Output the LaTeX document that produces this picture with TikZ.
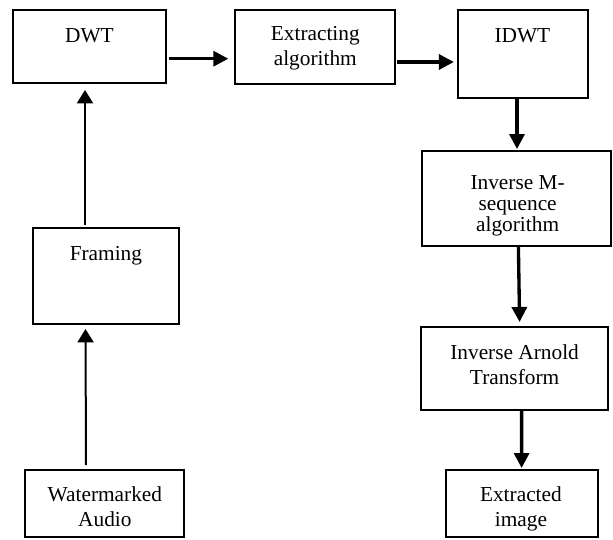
\documentclass[tikz,border=0pt]{standalone}
\usepackage{fontspec}
\setmainfont{Liberation Serif}
\usetikzlibrary{arrows.meta,calc}

\tikzset{every picture/.style={line width=0.75pt}}
\tikzset{
  blk/.style={draw, line width=1.5pt, rectangle, inner sep=0pt},
  txt/.style={anchor=north, inner sep=0pt, align=center, font=\fontsize{16}{18.75}\selectfont},
  fatarr/.style={line width=2.5pt, -{Triangle[length=11.25pt,width=11.25pt]}},
  thinarr/.style={line width=1.5pt, -{Triangle[length=10pt,width=12pt]}},
}

\begin{document}
\begin{tikzpicture}[x=0.75pt,y=0.75pt,yscale=-1,xscale=1]
\useasboundingbox (0,0) rectangle (613,539);

%Boxes
\node [blk, minimum width=114.75pt, minimum height=54.75pt] (dwt) at (89.4,46.5) {};
\node [blk, minimum width=120pt, minimum height=55.5pt] (ext) at (315.3,47) {};
\node [blk, minimum width=98pt, minimum height=66pt] (idwt) at (522.9,54) {};
\node [blk, minimum width=141.15pt, minimum height=71.25pt] (invm) at (516.5,198.5) {};
\node [blk, minimum width=140.25pt, minimum height=62.25pt] (arnold) at (514.7,368.5) {};
\node [blk, minimum width=113.85pt, minimum height=50.25pt] (extimg) at (521.8,503.5) {};
\node [blk, minimum width=109.4pt, minimum height=72pt] (framing) at (105.9,276) {};
\node [blk, minimum width=119.1pt, minimum height=50.25pt] (wm) at (104.1,503.5) {};

% Text Node
\node [txt] (dwtlbl) at (89.4,28) {DWT};
% Text Node
\node [txt] (extlbl) at (315.3,26) {Extracting\\algorithm};
% Text Node
\node [txt] (idwtlbl) at (522.4,28) {IDWT};
% Text Node
\node [txt, font=\fontsize{16}{15.75}\selectfont] (invmlbl) at (517.6,175) {Inverse M-\\sequence\\algorithm};
% Text Node
\node [txt] (arnoldlbl) at (514.6,344) {Inverse Arnold\\Transform};
% Text Node
\node [txt] (extimglbl) at (520.9,486.5) {Extracted\\image};
% Text Node
\node [txt] (framinglbl) at (105.9,246) {Framing};
% Text Node
\node [txt] (wmlbl) at (104.9,486.5) {Watermarked\\Audio};

%Arrows
\draw [fatarr] ($(dwt.east)+(2,12.2)$) -- ($(ext.west)+(-6,11.7)$);
\draw [fatarr] ($(ext.east)+(1,15)$) -- ($(idwt.west)+(-2.7,8)$);
\draw [fatarr] ($(idwt.south)+(-5.9,0)$) -- ($(invm.north)+(0.5,-1)$);
\draw [fatarr] ($(invm.south)+(1.9,0)$) -- ($(arnold.north)+(4.9,-4)$);
\draw [fatarr] ($(arnold.south)+(6.9,0)$) -- ($(extimg.north)+(-0.2,-1)$);
\draw [thinarr] ($(wm.north)+(-18.1,-4)$) -- ($(framing.south)+(-20.4,4)$);
\draw [thinarr] ($(framing.north)+(-20.9,-2)$) -- ($(dwt.south)+(-4.4,6)$);
\end{tikzpicture}
\end{document}
